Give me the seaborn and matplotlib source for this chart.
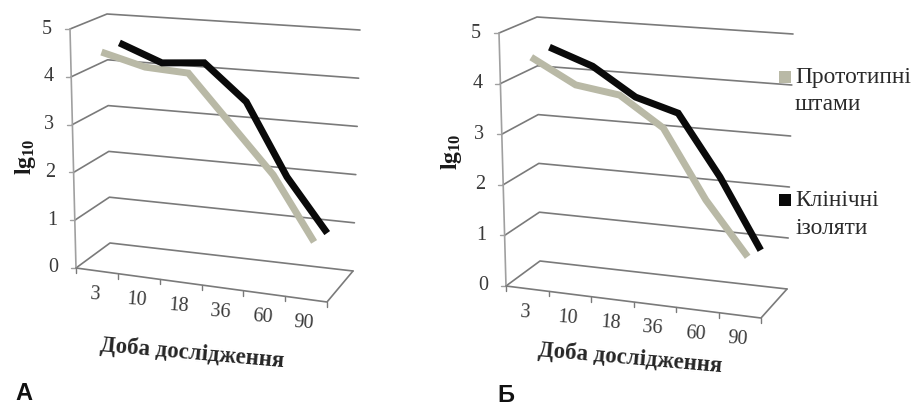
import numpy as np
import matplotlib
matplotlib.use("Agg")
import matplotlib.pyplot as plt
from matplotlib.patches import Rectangle
from matplotlib.transforms import Transform
import seaborn as sns

days = ["3", "10", "18", "36", "60", "90"]
value_ticks = [0, 1, 2, 3, 4, 5]
a_prototype = [4.47, 4.23, 4.18, 3.20, 2.26, 1.00]
a_clinical = [4.49, 4.13, 4.20, 3.45, 1.96, 0.89]
b_prototype = [4.47, 3.99, 3.86, 3.29, 1.98, 0.98]
b_clinical = [4.50, 4.18, 3.63, 3.38, 2.20, 0.85]
xlabel = "Доба дослідження"
ylabel = r"$\mathbf{lg_{10}}$"
legend_a = ["Прототипні", "штами"]
legend_b = ["Клінічні", "ізоляти"]

GREY = "#b9b9a6"
BLACK = "#0a0a0a"
GRID = "#7a7a7a"
WALL = "#a0a0a0"
TXT = "#3a3a3a"

sns.set_theme(style="white")
plt.rcParams["font.family"] = ["Liberation Serif", "DejaVu Serif"]
plt.rcParams["mathtext.fontset"] = "custom"
plt.rcParams["mathtext.bf"] = "Liberation Serif:bold"
plt.rcParams["mathtext.rm"] = "Liberation Serif"


class Box:
    """Perspective box of the 3-D chart: category 0-6, value 0-5, depth 0-1."""

    def __init__(self, fb0, ft0, fb6, ft6, bb0, bt0, bb6, bt6):
        self.c = np.array([[[fb0, ft0], [fb6, ft6]], [[bb0, bt0], [bb6, bt6]]], float)

    def project(self, c, v, d):
        c, v, d = np.asarray(c, float) / 6, np.asarray(v, float) / 5, np.asarray(d, float)
        out = 0
        for i, wd in enumerate((1 - d, d)):
            for j, wc in enumerate((1 - c, c)):
                for k, wv in enumerate((1 - v, v)):
                    out = out + (wd * wc * wv)[..., None] * self.c[i, j, k]
        return out


class Plane(Transform):
    input_dims = output_dims = 2
    is_separable = False
    has_inverse = False

    def __init__(self, box, plane_depth):
        super().__init__()
        self.box, self.plane_depth = box, plane_depth

    def transform_non_affine(self, values):
        values = np.asarray(values, float)
        return self.box.project(values[:, 0], values[:, 1], np.full(len(values), self.plane_depth))


fig = plt.figure(figsize=(9.13, 4.05), dpi=100)
ax = fig.add_axes([0, 0, 1, 1])
ax.set_xlim(0, 913)
ax.set_ylim(405, 0)
ax.set_axis_off()
ax.autoscale(False)


def panel(box, proto, clin, ylab_xy, xlab_xy, letter, letter_xy):
    def seg(c, v, d, color=GRID, lw=1.2):
        p = box.project(np.array(c), np.array(v), np.array(d))
        ax.plot(p[:, 0], p[:, 1], color=color, lw=lw, zorder=1, solid_capstyle="round")

    for v in value_ticks:
        seg([0, 0, 6], [v, v, v], [0, 1, 1])
        p = box.project(np.array(0.0), np.array(float(v)), np.array(0.0))
        ax.plot([p[0] - 5, p[0]], [p[1], p[1]], color=WALL, lw=1, zorder=1)
        ax.text(p[0] - 23, p[1], str(v), ha="center", va="center", fontsize=14.5, color=TXT)
    seg([0, 0], [0, 5], [0, 0], WALL)
    seg([0, 6, 6], [0, 0, 0], [0, 0, 1], GRID)
    for c in range(7):
        p = box.project(np.array(float(c)), np.array(0.0), np.array(0.0))
        ax.plot([p[0], p[0]], [p[1], p[1] + 5], color=GRID, lw=1, zorder=1)
    centers = np.arange(len(days)) + 0.5
    for c, lab in zip(centers, days):
        p = box.project(np.array(c), np.array(0.0), np.array(0.0))
        ax.text(p[0] - 2, p[1] + 24, lab, ha="center", va="center", fontsize=14.5,
                color=TXT, rotation=-4, rotation_mode="anchor")
    for vals, col, depth in ((proto, GREY, 0.25), (clin, BLACK, 0.75)):
        sns.lineplot(x=centers, y=vals, color=col, lw=5, ax=ax, legend=False, zorder=3,
                     transform=Plane(box, depth) + ax.transData,
                     solid_capstyle="butt", solid_joinstyle="miter")
    ax.text(*ylab_xy, ylabel, rotation=90, ha="center", va="center", fontsize=17, color="#1a1a1a")
    ax.text(*xlab_xy, xlabel, rotation=-5, ha="center", va="center", fontsize=16.5,
            fontweight="bold", color="#262626", rotation_mode="anchor")
    ax.text(*letter_xy, letter, ha="center", va="center", fontsize=17,
            family="Liberation Sans", fontweight="bold", color="#111111")


box_a = Box((76, 268), (70, 29), (327, 302), (335, 50),
            (110, 243), (107, 14), (353, 271), (360, 30))
box_b = Box((506, 286), (499, 33), (761, 318), (769, 52),
            (540, 261), (537, 17), (787, 289), (793, 34))

panel(box_a, a_prototype, a_clinical, (26, 157), (192, 353), "А", (24, 393))
panel(box_b, b_prototype, b_clinical, (452, 152), (630, 358), "Б", (506, 395))

for (color, lines, y) in ((GREY, legend_a, 77), (BLACK, legend_b, 200)):
    ax.add_patch(Rectangle((779, y - 6), 12, 12, color=color, lw=0, zorder=4))
    for i, line in enumerate(lines):
        ax.text(795, y + i * 28, line, ha="left", va="center", fontsize=16.8, color="#2a2a2a")

fig.savefig("out.png", dpi=100)
